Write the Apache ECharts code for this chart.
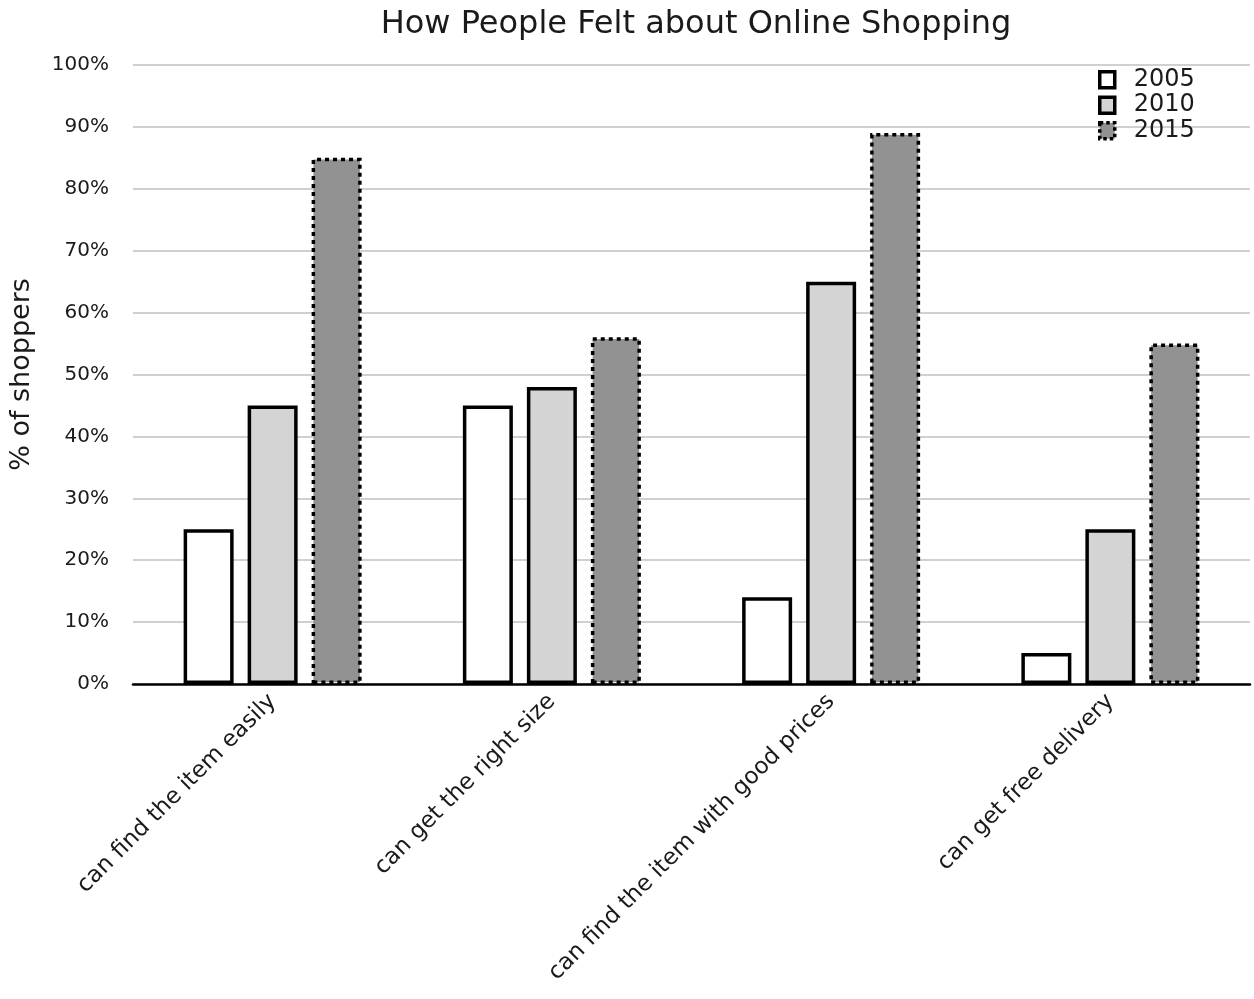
<!DOCTYPE html>
<html>
<head>
<meta charset="utf-8">
<script src="https://cdn.jsdelivr.net/npm/echarts@6/dist/echarts.min.js"></script>
<style>html,body{margin:0;padding:0;background:#fff}#c{width:1254px;height:999px}</style>
</head>
<body>
<div id="c"></div>
<script>
const categories = ['can find the item easily', 'can get the right size', 'can find the item with good prices', 'can get free delivery'];
const years = ['2005', '2010', '2015'];
const values2005 = [25, 45, 14, 5];
const values2010 = [45, 48, 65, 25];
const values2015 = [85, 56, 89, 55];
const yTicks = [0, 10, 20, 30, 40, 50, 60, 70, 80, 90, 100];

const font = '"DejaVu Sans", sans-serif';
const chart = echarts.init(document.getElementById('c'));
const fills = ['#ffffff', '#d4d4d4', '#929292'];
const borders = ['solid', 'solid', [4, 4]];
const legendBorders = ['solid', 'solid', [3.5, 3]];
const data = [values2005, values2010, values2015];

chart.setOption({
  animation: false,
  textStyle: { fontFamily: font },
  title: {
    text: 'How People Felt about Online Shopping',
    left: 691, top: 4, textAlign: 'center',
    textStyle: { fontSize: 32, fontWeight: 'normal', color: '#1a1a1a', fontFamily: font }
  },
  legend: {
    orient: 'vertical', left: 1093, top: 62, itemGap: 0,
    itemWidth: 15, itemHeight: 16, icon: 'rect',
    itemStyle: { borderWidth: 3.5 },
    textStyle: { fontSize: 24, color: '#1a1a1a', fontFamily: font, padding: [0, 0, 0, 14], lineHeight: 25.5 },
    data: years.map((y, i) => ({ name: y, itemStyle: { borderType: legendBorders[i] } }))
  },
  grid: { left: 132, right: 4, top: 65, bottom: 315 },
  xAxis: {
    type: 'category', data: categories,
    axisLine: { lineStyle: { color: '#000', width: 2.5 } },
    axisTick: { show: false },
    axisLabel: { rotate: 45, fontSize: 23, color: '#1a1a1a', margin: 14, interval: 0, fontFamily: font }
  },
  yAxis: {
    type: 'value', min: 0, max: 100, interval: 10,
    name: '% of shoppers', nameLocation: 'middle', nameGap: 98, nameRotate: 90,
    nameTextStyle: { fontSize: 27, color: '#1a1a1a', fontFamily: font },
    axisLine: { show: false }, axisTick: { show: false },
    splitLine: { lineStyle: { color: '#c0c0c0', width: 1.5 } },
    axisLabel: { fontSize: 20, color: '#1a1a1a', margin: 24, fontFamily: font,
      formatter: v => yTicks.includes(v) ? v + '%' : '' }
  },
  series: years.map((y, i) => ({
    name: y, type: 'bar', data: data[i],
    barWidth: 50, barGap: '28%',
    itemStyle: { color: fills[i], borderColor: '#000', borderWidth: 3.5, borderType: borders[i] }
  }))
});
</script>
</body>
</html>
